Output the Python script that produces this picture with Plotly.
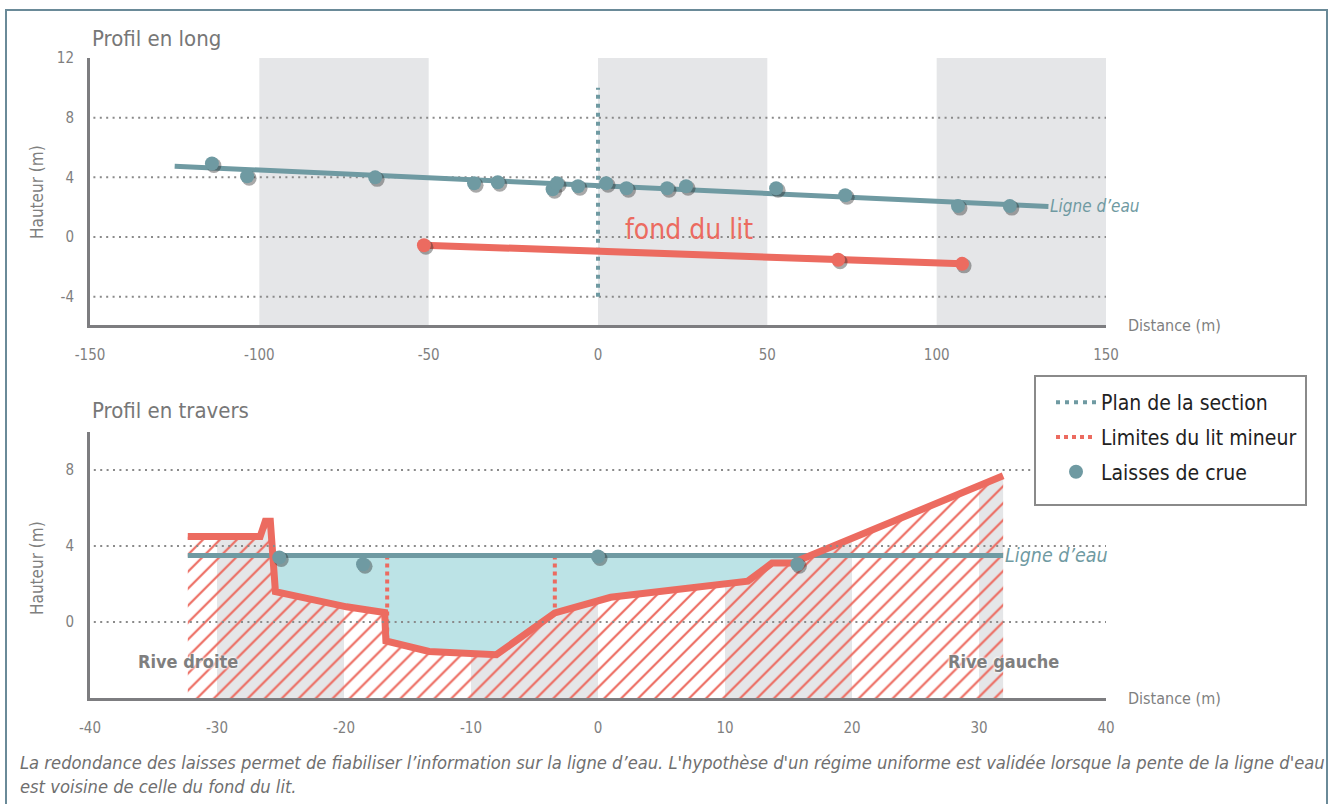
import numpy as np
import plotly.graph_objects as go

# ---------------- data ----------------
# Profil en long
long_x_ticks = [-150, -100, -50, 0, 50, 100, 150]
long_y_ticks = [-4, 0, 4, 8, 12]
long_bands = [(-100, -50), (0, 50), (100, 150)]
water_long_x = [-125, 133]
water_long_y = [4.75, 2.05]
laisses_long_x = [-114, -103.6, -65.8, -36.6, -29.6, -13.4, -12.1, -5.9, 2.4, 8.4, 20.4, 26.0, 52.6, 73.0, 106.3, 121.6]
laisses_long_y = [4.93, 4.07, 4.0, 3.6, 3.67, 3.2, 3.6, 3.4, 3.6, 3.27, 3.27, 3.4, 3.27, 2.8, 2.07, 2.07]
fond_x = [-51.4, 70.9, 107.5]
fond_y = [-0.55, -1.53, -1.8]
section_x = [0, 0]
section_y = [-4, 10]

# Profil en travers
trav_x_ticks = [-40, -30, -20, -10, 0, 10, 20, 30, 40]
trav_y_ticks = [0, 4, 8]
trav_bands = [(-30, -20), (-10, 0), (10, 20), (30, 40)]
ground_x = [-32.3, -26.6, -26.2, -25.8, -25.4, -19.8, -16.8, -16.7, -13.3, -8.0, -3.4, 1.0, 11.8, 13.7, 15.3, 31.9]
ground_y = [4.5, 4.5, 5.3, 5.3, 1.6, 0.8, 0.5, -1.0, -1.55, -1.72, 0.48, 1.3, 2.15, 3.1, 3.1, 7.7]
water_level = 3.5
laisses_trav_x = [-25.1, -18.5, 0.0, 15.7]
laisses_trav_y = [3.4, 3.04, 3.45, 3.04]
lit_mineur_x = [-16.6, -3.4]

caption = ("La redondance des laisses permet de fiabiliser l’information sur la ligne d’eau. "
           "L'hypothèse d'un régime uniforme est validée lorsque la pente de la ligne d'eau<br>"
           "est voisine de celle du fond du lit.")

# ---------------- style ----------------
TEAL = "#6f9aa2"
RED = "#ec6b60"
LIGHTBLUE = "#bce3e6"
BAND = "#e5e6e8"
GREY = "#7f7f7f"
AXIS = "#7d7d80"
FONT = "Liberation Sans Narrow, DejaVu Sans Condensed, DejaVu Sans"
DOT = "2px,4.4px"
SHADOW = "rgba(40,40,40,0.4)"

TOP_RANGE = [-5.9, 12]
BOT_RANGE = [-4, 10]
TOP_X = [-150, 150]
BOT_X = [-40, 40]

# plot area in pixels
L, R_EDGE = 90, 1106
TOP_Y0, TOP_Y1 = 58, 325
BOT_Y0, BOT_Y1 = 432, 698
PLOT_H = 640


def px_x(p):
    return (p - L) / (R_EDGE - L)


def px_y(p):
    return (BOT_Y1 - p) / PLOT_H


def shifted(rng, span_px, shift_px):
    d = (rng[1] - rng[0]) * shift_px / span_px
    return [rng[0] - d, rng[1] - d]


gx = np.array(ground_x, dtype=float)
gy = np.array(ground_y, dtype=float)

fig = go.Figure()

# ---- gray bands in the cross-section, clipped to the ground ----
for a, b in trav_bands:
    a2, b2 = max(a, gx[0]), min(b, gx[-1])
    inner = (gx > a2) & (gx < b2)
    px = [a2] + list(gx[inner]) + [b2, b2, a2]
    py = [np.interp(a2, gx, gy)] + list(gy[inner]) + [np.interp(b2, gx, gy), BOT_RANGE[0], BOT_RANGE[0]]
    fig.add_trace(go.Scatter(x=px, y=py, xaxis="x2", yaxis="y2", mode="lines", fill="toself",
                             fillcolor=BAND, line=dict(width=0), showlegend=False, hoverinfo="skip"))

# ---- hatched ground ----
hx = list(gx) + [gx[-1], gx[0]]
hy = list(gy) + [BOT_RANGE[0], BOT_RANGE[0]]
fig.add_trace(go.Scatter(x=hx, y=hy, xaxis="x2", yaxis="y2", mode="lines", fill="toself",
                         fillcolor="rgba(0,0,0,0)",
                         fillpattern=dict(shape="/", fgcolor=RED, bgcolor="rgba(0,0,0,0)", fgopacity=1,
                                          size=12, solidity=0.18),
                         line=dict(width=0), showlegend=False, hoverinfo="skip"))

# ---- water body (between water level and ground where ground is lower) ----
wx, wy = [], []
for i in range(len(gx) - 1):
    x0, y0, x1, y1 = gx[i], gy[i], gx[i + 1], gy[i + 1]
    if y0 < water_level:
        wx.append(x0); wy.append(y0)
    if (y0 - water_level) * (y1 - water_level) < 0:
        xc = x0 + (water_level - y0) * (x1 - x0) / (y1 - y0)
        wx.append(xc); wy.append(water_level)
fig.add_trace(go.Scatter(x=wx + [wx[0]], y=wy + [wy[0]], xaxis="x2", yaxis="y2", mode="lines", fill="toself",
                         fillcolor=LIGHTBLUE, line=dict(width=0), showlegend=False, hoverinfo="skip"))

# ---- limites du lit mineur ----
lm_x, lm_y = [], []
for xv in lit_mineur_x:
    lm_x += [xv, xv, None]
    lm_y += [water_level, float(np.interp(xv, gx, gy)), None]
fig.add_trace(go.Scatter(x=lm_x, y=lm_y, xaxis="x2", yaxis="y2", mode="lines",
                         line=dict(color=RED, width=4, dash="4px,4px"),
                         name="Limites du lit mineur", legendrank=2, legendgroup="b", hoverinfo="skip"))

# ---- water line (cross-section) ----
fig.add_trace(go.Scatter(x=[gx[0], gx[-1]], y=[water_level, water_level], xaxis="x2", yaxis="y2",
                         mode="lines", line=dict(color=TEAL, width=5), showlegend=False, hoverinfo="skip"))
# ---- ground line ----
fig.add_trace(go.Scatter(x=gx, y=gy, xaxis="x2", yaxis="y2", mode="lines",
                         line=dict(color=RED, width=7), showlegend=False, hoverinfo="skip"))

# ---- Profil en long : lines ----
fig.add_trace(go.Scatter(x=section_x, y=section_y, mode="lines",
                         line=dict(color=TEAL, width=4, dash="4px,5px"),
                         name="Plan de la section", legendrank=1, legendgroup="a", hoverinfo="skip"))
fig.add_trace(go.Scatter(x=water_long_x, y=water_long_y, mode="lines",
                         line=dict(color=TEAL, width=5), showlegend=False))
fig.add_trace(go.Scatter(x=fond_x, y=fond_y, mode="lines",
                         line=dict(color=RED, width=7), showlegend=False))

# ---- marker shadows (overlay axes shifted by 2px right / 2px down) ----
fig.add_trace(go.Scatter(x=fond_x + laisses_long_x, y=fond_y + laisses_long_y, xaxis="x3", yaxis="y3",
                         mode="markers", marker=dict(color=SHADOW, size=15), showlegend=False, hoverinfo="skip"))
fig.add_trace(go.Scatter(x=laisses_trav_x, y=laisses_trav_y, xaxis="x4", yaxis="y4", mode="markers",
                         marker=dict(color=SHADOW, size=15), showlegend=False, hoverinfo="skip"))

# ---- markers (overlay axes with the same ranges, drawn on top of the shadows) ----
fig.add_trace(go.Scatter(x=fond_x, y=fond_y, xaxis="x5", yaxis="y5", mode="markers",
                         marker=dict(color=RED, size=14), showlegend=False))
fig.add_trace(go.Scatter(x=laisses_long_x, y=laisses_long_y, xaxis="x5", yaxis="y5", mode="markers",
                         marker=dict(color=TEAL, size=14), name="Laisses de crue", legendrank=3,
                         legendgroup="c"))
fig.add_trace(go.Scatter(x=laisses_trav_x, y=laisses_trav_y, xaxis="x6", yaxis="y6", mode="markers",
                         marker=dict(color=TEAL, size=14), showlegend=False, legendgroup="c"))

# ---------------- shapes ----------------
shapes = []
for a, b in long_bands:
    shapes.append(dict(type="rect", xref="x", yref="y", x0=a, x1=b, y0=TOP_RANGE[0], y1=TOP_RANGE[1],
                       fillcolor=BAND, line=dict(width=0), layer="below"))
for v in long_y_ticks[:-1]:
    shapes.append(dict(type="line", xref="x", yref="y", x0=-149, x1=150, y0=v, y1=v,
                       line=dict(color="#8a8a8a", width=2, dash=DOT), layer="below"))
for v in trav_y_ticks:
    shapes.append(dict(type="line", xref="x2", yref="y2", x0=-39.7, x1=40, y0=v, y1=v,
                       line=dict(color="#8a8a8a", width=2, dash=DOT), layer="above"))
# legend box
shapes.append(dict(type="rect", xref="paper", yref="paper",
                   x0=px_x(1035), x1=px_x(1306), y0=px_y(505), y1=px_y(376),
                   line=dict(color="#8a8a8a", width=2), fillcolor="white", layer="above"))
# outer frame
shapes.append(dict(type="rect", xref="paper", yref="paper",
                   x0=px_x(6), x1=px_x(1327), y0=px_y(830), y1=px_y(10),
                   line=dict(color="#6a8a98", width=2), fillcolor="rgba(0,0,0,0)", layer="below"))

# ---------------- annotations ----------------
ann = []
ann.append(dict(text="Profil en long", x=px_x(90), y=px_y(38), xref="paper", yref="paper",
                xanchor="left", yanchor="middle", showarrow=False, font=dict(size=22, color="#777777", family=FONT)))
ann.append(dict(text="Profil en travers", x=px_x(90), y=px_y(410), xref="paper", yref="paper",
                xanchor="left", yanchor="middle", showarrow=False, font=dict(size=22, color="#777777", family=FONT)))
for yc in (192, 568):
    ann.append(dict(text="Hauteur (m)", x=px_x(37), y=px_y(yc), xref="paper", yref="paper", textangle=-90,
                    xanchor="center", yanchor="middle", showarrow=False, font=dict(size=17, color=GREY, family=FONT)))
for yc in (325, 698):
    ann.append(dict(text="Distance (m)", x=px_x(1126), y=px_y(yc), xref="paper", yref="paper",
                    xanchor="left", yanchor="middle", showarrow=False, font=dict(size=16, color=GREY, family=FONT)))
ann.append(dict(text="fond du lit", x=26.9, y=0.5, xref="x", yref="y", xanchor="center", yanchor="middle",
                showarrow=False, font=dict(size=28, color=RED, family=FONT)))
ann.append(dict(text="<i>Ligne d’eau</i>", x=water_long_x[-1], y=water_long_y[-1], xref="x", yref="y",
                xanchor="left", yanchor="middle", showarrow=False, font=dict(size=17, color=TEAL, family=FONT)))
ann.append(dict(text="<i>Ligne d’eau</i>", x=gx[-1], y=water_level, xref="x2", yref="y2",
                xanchor="left", yanchor="middle", showarrow=False, font=dict(size=19.5, color=TEAL, family=FONT)))
for txt, xv in (("Rive droite", gx[0]), ("Rive gauche", gx[-1])):
    ann.append(dict(text="<b>" + txt + "</b>", x=xv, y=-2.1, xref="x2", yref="y2",
                    xanchor="center", yanchor="middle", showarrow=False,
                    font=dict(size=18, color=GREY, family=FONT,
                              shadow="0px 0px 3px white, 0px 0px 3px white")))
ann.append(dict(text="<i>" + caption + "</i>", x=px_x(18), y=px_y(750), xref="paper", yref="paper",
                xanchor="left", yanchor="top", align="left", showarrow=False,
                font=dict(size=18.2, color="#6f6f6f", family=FONT)))

axis_common = dict(showgrid=False, zeroline=False, showline=True, linecolor=AXIS, linewidth=3,
                   ticks="", tickfont=dict(size=15, color=GREY, family=FONT))
hidden = dict(visible=False, showgrid=False, zeroline=False)

fig.update_layout(
    width=1335, height=804, autosize=False,
    margin=dict(l=L, r=1335 - R_EDGE, t=TOP_Y0, b=804 - BOT_Y1),
    paper_bgcolor="white", plot_bgcolor="white",
    font=dict(family=FONT),
    xaxis=dict(domain=[0, 1], range=TOP_X, tickvals=long_x_ticks, ticktext=[str(v) for v in long_x_ticks],
               anchor="y", ticklabelstandoff=14, **axis_common),
    yaxis=dict(domain=[px_y(TOP_Y1), 1], range=TOP_RANGE, tickvals=long_y_ticks,
               ticktext=[str(v) for v in long_y_ticks], anchor="x", ticklabelstandoff=10, **axis_common),
    xaxis2=dict(domain=[0, 1], range=BOT_X, tickvals=trav_x_ticks, ticktext=[str(v) for v in trav_x_ticks],
                anchor="y2", ticklabelstandoff=14, **axis_common),
    yaxis2=dict(domain=[0, px_y(BOT_Y0)], range=BOT_RANGE, tickvals=trav_y_ticks,
                ticktext=[str(v) for v in trav_y_ticks], anchor="x2", ticklabelstandoff=10, **axis_common),
    # overlay axes: 3/4 shifted for shadows, 5/6 identical for markers on top
    xaxis3=dict(overlaying="x", range=shifted(TOP_X, R_EDGE - L, 2), anchor="y3", **hidden),
    yaxis3=dict(overlaying="y", range=shifted(TOP_RANGE, TOP_Y1 - TOP_Y0, -2), anchor="x3", **hidden),
    xaxis4=dict(overlaying="x2", range=shifted(BOT_X, R_EDGE - L, 2), anchor="y4", **hidden),
    yaxis4=dict(overlaying="y2", range=shifted(BOT_RANGE, BOT_Y1 - BOT_Y0, -2), anchor="x4", **hidden),
    xaxis5=dict(overlaying="x", range=TOP_X, anchor="y5", **hidden),
    yaxis5=dict(overlaying="y", range=TOP_RANGE, anchor="x5", **hidden),
    xaxis6=dict(overlaying="x2", range=BOT_X, anchor="y6", **hidden),
    yaxis6=dict(overlaying="y2", range=BOT_RANGE, anchor="x6", **hidden),
    shapes=shapes, annotations=ann,
    legend=dict(x=px_x(1051), y=px_y(382), xanchor="left", yanchor="top",
                bgcolor="rgba(0,0,0,0)", borderwidth=0,
                font=dict(size=21, color="#222222", family=FONT), tracegroupgap=4.5,
                itemwidth=40),
    showlegend=True,
)

fig.write_html("out.html", config={"displayModeBar": False},
               post_script="document.body.style.margin='0px';document.body.style.overflow='hidden';")
